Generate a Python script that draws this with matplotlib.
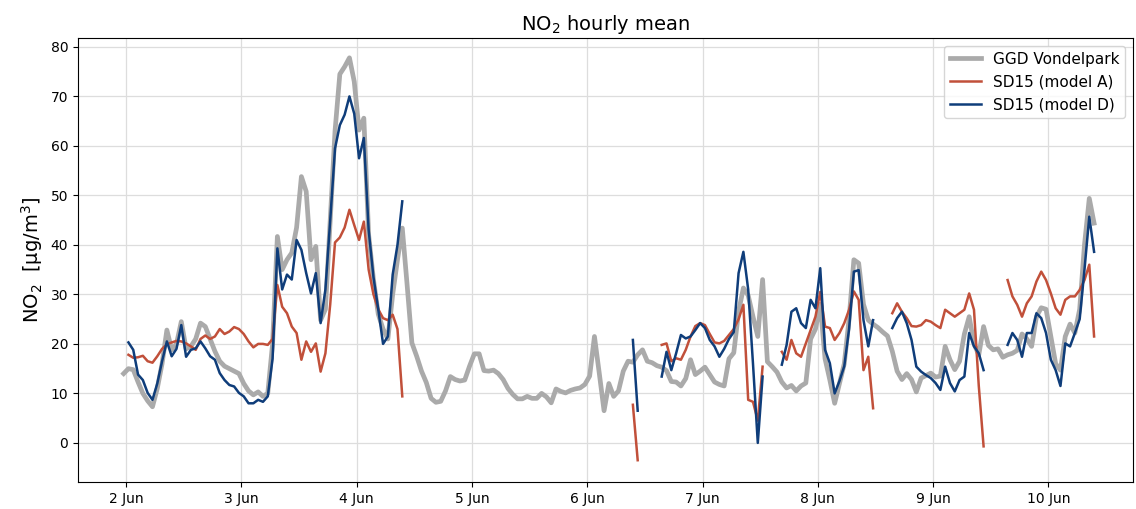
import numpy as np
import pandas as pd
import matplotlib
matplotlib.use('Agg')
import matplotlib.pyplot as plt
import matplotlib.dates as mdates

nan = np.nan

# hourly time stamps (hourly means, centred on the half hour)
times = pd.date_range('2019-06-01 23:30', periods=203, freq='h')

# GGD Vondelpark reference station, hours 0..202
ggd = [14, 15, 14.8, 12.3, 10, 8.5, 7.3, 11, 16, 22.8,
       18.8, 20, 24.5, 19, 19.5, 21, 24.2, 23.5, 21, 18.5,
       16.5, 15.5, 15, 14.5, 14, 12, 10.5, 9.7, 10.3, 9.4,
       10, 20, 41.7, 35, 37, 38.4, 43.5, 53.8, 50.8, 37,
       39.7, 24.8, 27, 45, 63, 74.5, 76, 77.8, 73, 63.2,
       65.6, 42, 33, 26, 23, 21, 30, 37, 43.4, 32,
       20.2, 17.5, 14.5, 12.2, 9, 8.2, 8.4, 10.5, 13.4, 12.8,
       12.5, 12.7, 15.5, 18, 18, 14.6, 14.5, 14.7, 14, 12.8,
       11, 9.8, 8.9, 8.9, 9.4, 9, 9, 10, 9.3, 8.1,
       10.9, 10.4, 10.1, 10.6, 10.9, 11.1, 11.8, 13.5, 21.5, 14.1,
       6.5, 12, 9.4, 10.5, 14.5, 16.5, 16.3, 17.8, 18.8, 16.5,
       16.2, 15.6, 15.3, 14.6, 12.4, 12.3, 11.5, 13, 16.8, 13.8,
       14.5, 15.3, 13.8, 12.3, 11.8, 11.5, 17, 18.2, 26.5, 31.3,
       29.8, 25.5, 21.5, 33, 16.4, 15.4, 14.3, 12.3, 11.1, 11.6,
       10.5, 11.5, 12.1, 21, 23, 28, 17, 12.7, 8, 12,
       16, 25, 37, 36.3, 28, 24.8, 24, 23.3, 22.4, 21.6,
       18.5, 14.5, 12.8, 14, 12.8, 10.3, 13.1, 13.6, 14.1, 13.3,
       13.5, 19.5, 16.8, 14.8, 16.5, 22, 25.5, 20, 17.8, 23.5,
       19.7, 18.8, 19, 17.3, 17.8, 18.1, 18.7, 22, 21, 19.5,
       25.5, 27.3, 27, 21.5, 16, 14.7, 21.5, 24, 22.2, 27,
       40, 49.4, 44.4]

# SD15 model A, runs of valid hours (gaps are missing data)
a_run1 = [17.8, 17.2, 17.3, 17.6, 16.5, 16.2, 17.5, 19, 19.9, 20.3,
          20.6, 20.5, 20.1, 19.5, 18.8, 21, 21.7, 21, 21.5, 23,
          22, 22.5, 23.4, 23, 22, 20.5, 19.3, 20, 20, 19.8,
          21, 31.9, 27.5, 26.2, 23.5, 22.2, 16.8, 20.5, 18.4, 20.1,
          14.4, 18.1, 28, 40.5, 41.5, 43.5, 47.1, 44, 41, 44.7,
          35, 30, 27, 25.2, 24.8, 25.9, 23, 9.4]
a_run2 = [7.7, -3.5]
a_run3 = [19.8, 20.1, 16.5, 17.1, 16.8, 18.8, 21.5, 23.6, 24.2, 23.8,
          22, 20.3, 20.1, 20.6, 21.8, 23, 25, 27.9, 8.7, 8.3, 4.5, 15.4]
a_run4 = [18.4, 16.8, 20.8, 18.1, 17.4, 20.1, 22.8, 25.5, 30.5, 23.5,
          23.2, 20.8, 22.2, 24.2, 26.9, 30.6, 28.9, 14.7, 17.4, 7]
a_run5 = [26.2, 28.2, 26.5, 25.2, 23.6, 23.5, 23.8, 24.8, 24.5, 23.8,
          23.2, 26.9, 26.2, 25.5, 26.2, 26.9, 30.2, 26.9, 11.5, -0.7]
a_run6 = [32.9, 29.6, 27.9, 25.5, 28.2, 29.6, 32.6, 34.6, 32.9, 30.2,
          27.2, 25.9, 28.9, 29.6, 29.6, 30.9, 32.9, 36, 21.5]

# SD15 model D, same valid hours
d_run1 = [20.3, 18.8, 13.8, 12.7, 10.1, 8.7, 12, 16.5, 20.5, 17.5,
          19, 23.8, 17.4, 18.8, 19.1, 20.5, 19.1, 17.5, 16.8, 14.1,
          12.7, 11.7, 11.4, 10.1, 9.4, 8, 8, 8.7, 8.3, 9.4,
          17, 39.3, 31, 34, 33, 41, 39, 34.3, 30.2, 34.3,
          24.2, 31, 45, 59.5, 64.2, 66.3, 70, 66.5, 57.5, 61.6,
          43, 33.5, 27, 20, 21.5, 34, 40, 48.8]
d_run2 = [20.8, 6.5]
d_run3 = [13.4, 18.4, 14.7, 18.1, 21.8, 21.1, 21.5, 22.8, 24.2, 23.2,
          20.8, 19.5, 17.4, 19, 21, 22.4, 34.3, 38.6, 31, 16, 0, 13.4]
d_run4 = [15.8, 19.8, 26.5, 27.2, 24.2, 23.2, 28.9, 27.2, 35.3, 18.8,
          16.1, 10, 12.5, 15.5, 23, 34.6, 34.9, 24.8, 19.5, 24.8]
d_run5 = [23.2, 25.2, 26.5, 24.2, 20.8, 15.4, 14.4, 13.7, 13.1, 12.1,
          10.7, 15.4, 12.1, 10.4, 12.7, 13.4, 22.2, 19.5, 18.1, 14.7]
d_run6 = [19.8, 22.2, 20.8, 17.4, 22.2, 22.2, 26.2, 25.2, 22.2, 16.8,
          14.7, 11.5, 20.1, 19.5, 22.2, 25, 35, 45.7, 38.6]

# gap lengths between the runs (hours 0, 59-105, 108-111, 134-136, 157-159, 180-183)
gaps = [1, 47, 4, 3, 3, 4]


def join_runs(runs):
    out = []
    for g, r in zip(gaps, runs):
        out += [nan] * g + r
    return out


model_a = join_runs([a_run1, a_run2, a_run3, a_run4, a_run5, a_run6])
model_d = join_runs([d_run1, d_run2, d_run3, d_run4, d_run5, d_run6])

df = pd.DataFrame({'ggd': ggd, 'a': model_a, 'd': model_d}, index=times)

fig = plt.figure(figsize=(11.36, 5.09), dpi=100)
ax = fig.add_axes([78 / 1136, 27 / 509, 1055 / 1136, 444 / 509])

ax.plot(df.index, df['ggd'], color='#aaaaaa', lw=3.4, label='GGD Vondelpark')
ax.plot(df.index, df['a'], color='#c1503a', lw=1.8, label='SD15 (model A)')
ax.plot(df.index, df['d'], color='#0f3d7a', lw=1.8, label='SD15 (model D)')

t0 = pd.Timestamp('2019-06-02')
ax.set_xlim(t0 - pd.Timedelta(hours=10), t0 + pd.Timedelta(hours=209.6))
ax.set_ylim(-7.9, 81.8)
ax.set_yticks(range(0, 81, 10))
ax.xaxis.set_major_locator(mdates.DayLocator())
ax.xaxis.set_major_formatter(mdates.DateFormatter('%-d %b'))
ax.tick_params(labelsize=10)

ax.grid(True, color='#dddddd', lw=0.9)
ax.set_axisbelow(True)
ax.set_title('NO$_2$ hourly mean', fontsize=14)
ax.set_ylabel('NO$_2$  [µg/m$^3$]', fontsize=14)
ax.legend(loc='upper right', fontsize=11)

fig.savefig('out.png', dpi=100)
